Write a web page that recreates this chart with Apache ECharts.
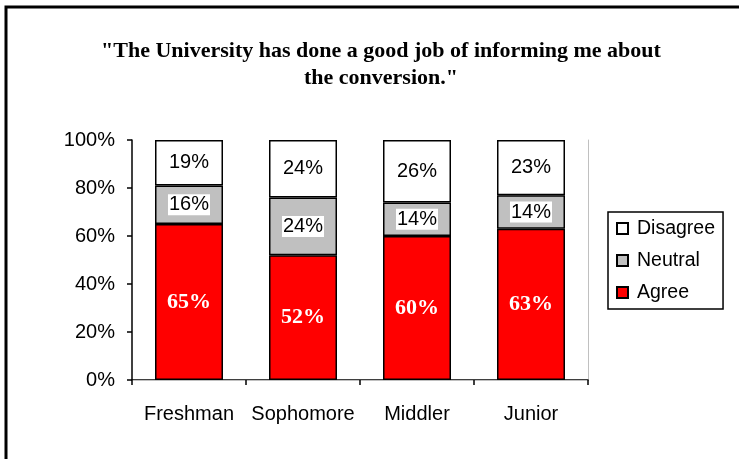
<!DOCTYPE html>
<html>
<head>
<meta charset="utf-8">
<script src="https://cdn.jsdelivr.net/npm/echarts@6/dist/echarts.min.js"></script>
<style>
html, body { margin: 0; padding: 0; background: #fff; }
#main { width: 739px; height: 459px; }
</style>
</head>
<body>
<div id="main"></div>
<script>
var classes = ['Freshman', 'Sophomore', 'Middler', 'Junior'];
var agree = [65, 52, 60, 63];
var neutral = [16, 24, 14, 14];
var disagree = [19, 24, 26, 23];

var dom = document.getElementById('main');
var myChart = echarts.init(dom);

var barBorder = { borderColor: '#000', borderWidth: 1.5 };

option = {
    backgroundColor: '#fff',
    animation: false,
    title: {
        text: '"The University has done a good job of informing me about\nthe conversion."',
        left: 376,
        textAlign: 'center',
        top: 33,
        textStyle: {
            fontFamily: 'Liberation Serif',
            fontWeight: 'bold',
            fontSize: 22,
            lineHeight: 27,
            color: '#000'
        }
    },
    grid: { left: 132, top: 140, right: 151, bottom: 79 },
    legend: {
        data: ['Disagree', 'Neutral', 'Agree'],
        orient: 'vertical',
        left: 608,
        top: 212,
        width: 119,
        padding: [6, 8, 6, 8],
        itemGap: 11,
        itemWidth: 11,
        itemHeight: 11,
        borderColor: '#000',
        borderWidth: 1.5,
        icon: 'rect',
        textStyle: {
            fontFamily: 'Liberation Sans',
            fontSize: 19.5,
            lineHeight: 21,
            color: '#000',
            padding: [0, 0, 0, 4]
        }
    },
    xAxis: [{
        type: 'category',
        data: classes,
        axisLine: { lineStyle: { color: '#000', width: 1.5 } },
        axisTick: { show: true, length: 5, lineStyle: { color: '#000', width: 1.5 } },
        axisLabel: {
            interval: 0,
            margin: 24,
            fontFamily: 'Liberation Sans',
            fontSize: 20,
            color: '#000'
        }
    }, {
        type: 'category',
        data: classes,
        position: 'top',
        axisLine: { lineStyle: { color: '#c0c0c0', width: 1 } },
        axisTick: { show: false },
        axisLabel: { show: false }
    }],
    yAxis: [{
        type: 'value',
        min: 0,
        max: 100,
        interval: 20,
        axisLine: { show: true, lineStyle: { color: '#000', width: 1.5 } },
        axisTick: { show: true, length: 5, lineStyle: { color: '#000', width: 1.5 } },
        splitLine: { show: false },
        axisLabel: {
            margin: 17,
            formatter: '{value}%',
            fontFamily: 'Liberation Sans',
            fontSize: 20,
            color: '#000'
        }
    }, {
        type: 'value',
        min: 0,
        max: 100,
        position: 'right',
        axisLine: { show: true, lineStyle: { color: '#c0c0c0', width: 1 } },
        axisTick: { show: false },
        axisLabel: { show: false },
        splitLine: { show: false }
    }],
    series: [{
        name: 'Agree',
        type: 'bar',
        stack: 'total',
        barWidth: 68,
        data: agree,
        itemStyle: Object.assign({ color: '#ff0000' }, barBorder),
        label: {
            show: true,
            position: 'inside',
            formatter: '{c}%',
            fontFamily: 'Liberation Serif',
            fontWeight: 'bold',
            fontSize: 22,
            color: '#fff'
        }
    }, {
        name: 'Neutral',
        type: 'bar',
        stack: 'total',
        data: neutral,
        itemStyle: Object.assign({ color: '#c0c0c0' }, barBorder),
        label: {
            show: true,
            position: 'inside',
            formatter: '{c}%',
            fontFamily: 'Liberation Sans',
            fontSize: 20,
            color: '#000',
            backgroundColor: '#fff',
            padding: [1, 1, 0, 1]
        }
    }, {
        name: 'Disagree',
        type: 'bar',
        stack: 'total',
        data: disagree,
        itemStyle: Object.assign({ color: '#fff' }, barBorder),
        label: {
            show: true,
            position: 'inside',
            formatter: '{c}%',
            fontFamily: 'Liberation Sans',
            fontSize: 20,
            color: '#000'
        }
    }],
    graphic: [{
        type: 'polyline',
        shape: { points: [[6, 470], [6, 7], [760, 7]] },
        style: { stroke: '#000', lineWidth: 3, fill: null }
    }]
};

if (option && typeof option === "object") {
    myChart.setOption(option, true);
}
</script>
</body>
</html>
